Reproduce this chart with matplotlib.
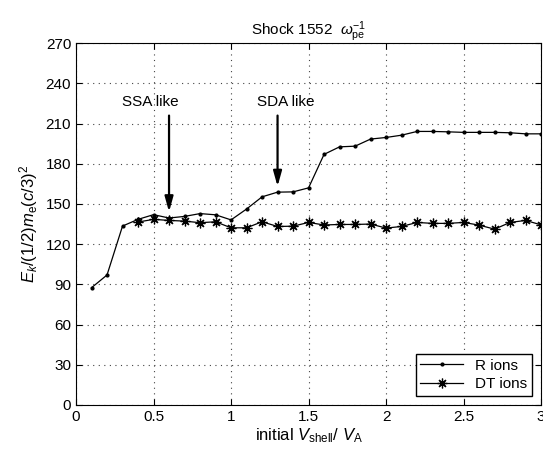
import matplotlib.pyplot as plt

plt.rcParams["font.family"] = ["Liberation Sans", "DejaVu Sans"]
plt.rcParams["mathtext.fontset"] = "custom"
plt.rcParams["mathtext.it"] = "Liberation Sans:italic"
plt.rcParams["mathtext.rm"] = "Liberation Sans"

# velocity ratio samples
r_x = [0.1, 0.2, 0.3, 0.4, 0.5, 0.6, 0.7, 0.8, 0.9, 1.0,
       1.1, 1.2, 1.3, 1.4, 1.5, 1.6, 1.7, 1.8, 1.9, 2.0,
       2.1, 2.2, 2.3, 2.4, 2.5, 2.6, 2.7, 2.8, 2.9, 3.0]
r_ions = [87.5, 97, 133.5, 138.5, 142, 139.5, 140.7, 142.8, 141.9, 138.1,
          146.2, 155.3, 158.8, 159, 162, 187, 192.6, 193.1, 198.4, 199.6,
          201.3, 204.1, 204.1, 203.8, 203.4, 203.4, 203.4, 203.1, 202.3, 202.3]

dt_x = r_x[3:]
dt_ions = [136.5, 138.5, 137.7, 137.2, 136, 136.7, 132.2,
           132.2, 136.7, 133.2, 133.4, 136.2, 134.3, 134.7, 134.7, 135, 132,
           133.2, 136.2, 135.5, 135.5, 136.2, 134.2, 131.2, 136.2, 137.7, 134.4]

annotations = [("SSA like", 0.6, 140, 0.48), ("SDA like", 1.3, 159, 1.35)]

fig = plt.figure(figsize=(5.43, 4.49), dpi=100)
ax = fig.add_axes([0.14, 0.098, 0.8565, 0.806])

ax.plot(r_x, r_ions, color="black", lw=0.9, marker=".", markersize=4, label="R ions")
ax.plot(dt_x, dt_ions, color="black", lw=0.9, marker=(8, 2, 0), markersize=7,
        markeredgewidth=0.9, label="DT ions")

for text, x_arrow, y_data, x_text in annotations:
    ax.annotate("", xy=(x_arrow, y_data + 2), xytext=(x_arrow, 218),
                arrowprops=dict(arrowstyle="-|>,head_length=0.9,head_width=0.25",
                                color="black", lw=1.6))
    ax.text(x_text, 226, text, ha="center", va="center", fontsize=11)

ax.set_xlim(0, 3)
ax.set_ylim(0, 270)
ax.set_xticks([0, 0.5, 1, 1.5, 2, 2.5, 3])
ax.set_xticklabels(["0", "0.5", "1", "1.5", "2", "2.5", "3"])
ax.set_yticks(range(0, 271, 30))
ax.tick_params(direction="in", labelsize=11, length=4, top=True, right=True)
ax.grid(True, linestyle=(0, (1, 4)), color="#444444", lw=0.8)

ax.set_title(r"Shock 1552  $\omega_{\mathrm{pe}}^{-1}$", fontsize=11)
ax.set_xlabel(r"initial $V_{\mathrm{shell}}$/ $V_{\mathrm{A}}$", fontsize=12, labelpad=2)
ax.set_ylabel(r"$E_k/(1/2)m_{\mathrm{e}}(c/3)^2$", fontsize=12, labelpad=4)

ax.legend(loc="lower right", fontsize=11, frameon=True, fancybox=False,
          edgecolor="black", framealpha=1, borderaxespad=0.6, handlelength=2.8,
          borderpad=0.3, labelspacing=0.3)

fig.savefig("out.png", dpi=100)
